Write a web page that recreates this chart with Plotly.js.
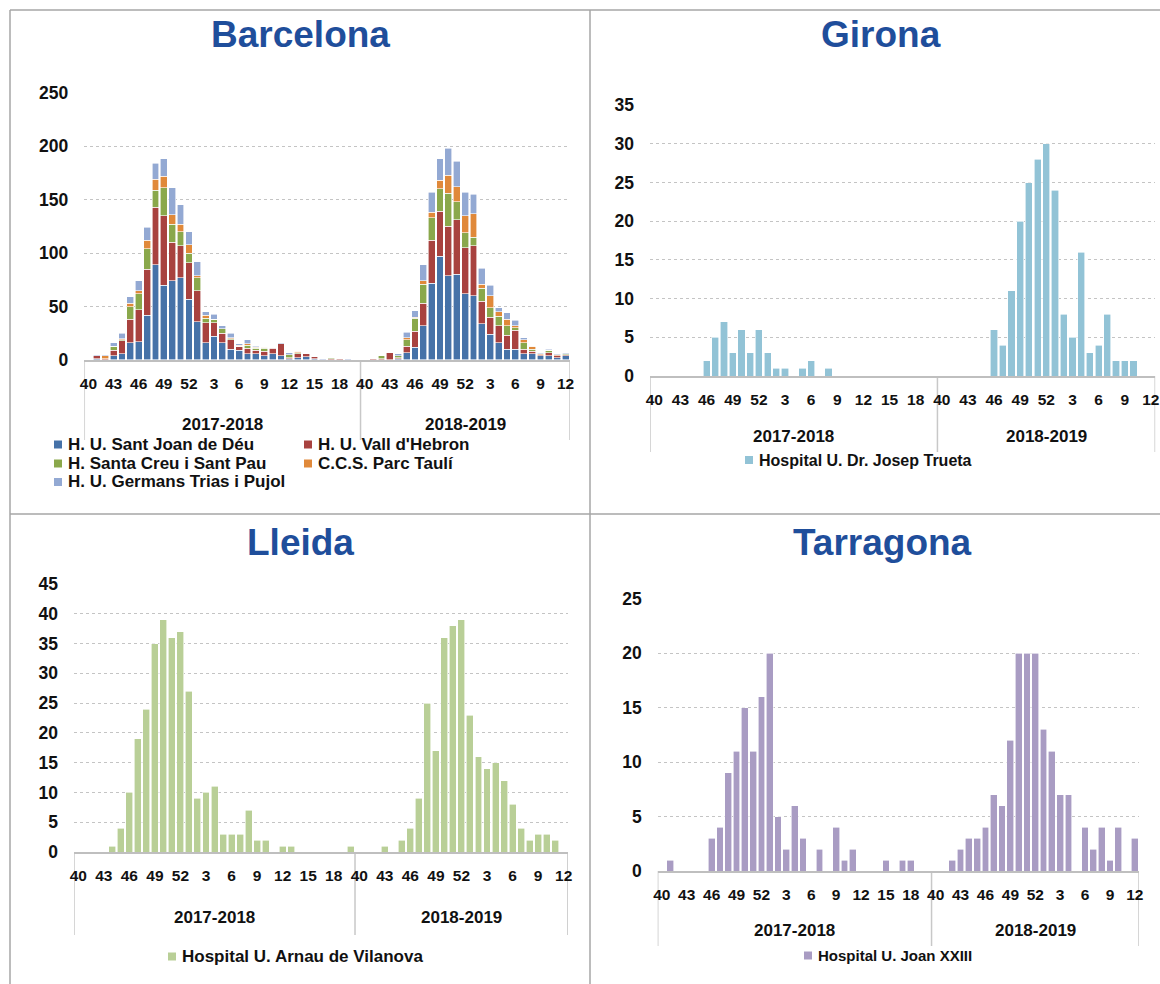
<!DOCTYPE html>
<html><head><meta charset="utf-8">
<script src="https://cdn.plot.ly/plotly-3.0.1.min.js"></script>
<style>html,body{margin:0;padding:0;background:#fff}#chart{width:1160px;height:984px}</style>
</head><body><div id="chart"></div>
<script>
// ---- categories ----
const seasons = ['2017-2018', '2018-2019'];
const weeks1718 = [40,41,42,43,44,45,46,47,48,49,50,51,52,1,2,3,4,5,6,7,8,9,10,11,12,13,14,15,16,17,18,19,20];
const weeks1819 = [40,41,42,43,44,45,46,47,48,49,50,51,52,1,2,3,4,5,6,7,8,9,10,11,12];

// ---- Barcelona (stacked) ----
const bcnSJD  = [0,1,0,4,6,16,17,42,89,70,74,77,57,36,16,22,16,10,9,6,6,4,6,4,1,2,3,1,0,0,0,0,0,
                 0,0,0,0,1,7,12,32,72,97,79,80,62,60,34,24,16,10,10,6,6,4,4,2,4];
const bcnVH   = [0,3,1,5,12,22,30,43,54,65,36,30,34,29,19,13,9,9,4,5,3,4,5,11,1,4,3,2,0,1,1,0,0,
                 0,1,1,7,1,6,15,21,40,42,46,51,43,47,21,16,16,13,18,4,2,1,3,2,1];
const bcnSCSP = [0,0,0,4,1,12,15,19,16,26,17,13,9,12,4,3,4,1,0,3,2,3,1,0,3,1,0,0,0,1,0,0,0,
                 0,0,3,0,2,6,12,18,21,21,31,17,14,8,12,9,9,9,2,6,2,0,2,0,1];
const bcnPT   = [0,0,3,0,1,3,3,8,10,11,9,7,8,2,3,0,0,1,1,1,1,1,0,0,0,1,0,0,0,0,0,0,0,
                 0,0,0,0,0,2,1,3,5,8,17,14,16,22,4,11,4,6,2,3,3,1,0,1,0];
const bcnGTP  = [0,1,1,3,5,6,9,12,15,16,25,18,12,13,3,5,3,4,1,4,1,0,0,1,2,0,0,0,1,0,0,1,0,
                 0,0,0,0,2,5,6,15,19,20,25,24,22,18,15,10,4,6,5,2,0,1,1,1,1];
const bcnNames = ['H. U. Sant Joan de Déu', "H. U. Vall d'Hebron", 'H. Santa Creu i Sant Pau', 'C.C.S. Parc Taulí', 'H. U. Germans Trias i Pujol'];
const bcnColors = ['#4672a8', '#a8423f', '#8aa84b', '#e0893a', '#93a9d3'];

// ---- Girona, Lleida, Tarragona ----
const gironaTrueta = [0,0,0,0,0,0,2,5,7,3,6,3,6,3,1,1,0,1,2,0,1,0,0,0,0,0,0,0,0,0,0,0,0,
                      0,0,0,0,0,0,6,4,11,20,25,28,30,24,8,5,16,3,4,8,2,2,2,0,0];
const lleidaArnau  = [0,0,0,0,1,4,10,19,24,35,39,36,37,27,9,10,11,3,3,3,7,2,2,0,1,1,0,0,0,0,0,0,1,
                      0,0,0,1,0,2,4,9,25,17,36,38,39,23,16,14,15,12,8,4,2,3,3,2,0];
const tarragonaJoan = [0,1,0,0,0,0,3,4,9,11,15,11,16,20,5,2,6,3,0,2,0,4,1,2,0,0,0,1,0,1,1,0,0,
                       0,0,1,2,3,3,4,7,6,12,20,20,20,13,11,7,7,0,4,2,4,1,4,0,3];

const W = 1160, H = 984;
const fx = v => v / W, fy = v => 1 - v / H;
const FONT = 'Liberation Sans, Arial, sans-serif';
const TITLE_COLOR = '#1f4e9b';
const TXT = '#111111';

const weeks = weeks1718.concat(weeks1819);
const xIdx = weeks.map((w, i) => i);
const tickIdx = xIdx.filter(i => i % 3 === 0);
const tickTxt = tickIdx.map(i => String(weeks[i]));
const n1 = weeks1718.length, nAll = weeks.length;

// panel geometry (pixels)
const panels = [
  {key:'', title:'Barcelona', tx:300, ty:35, x0:84.3, x1:569.8, yb:360, yt:92.7, ymax:250, dt:50, seasonY:424, divEnd:440},
  {key:'2', title:'Girona', tx:881, ty:35, x0:650, x1:1155.2, yb:376, yt:105.3, ymax:35, dt:5, seasonY:436, divEnd:452},
  {key:'3', title:'Lleida', tx:300, ty:542, x0:74, x1:567.9, yb:852, yt:584, ymax:45, dt:5, seasonY:917, divEnd:935},
  {key:'4', title:'Tarragona', tx:882, ty:542, x0:657.7, x1:1139, yb:871, yt:598.7, ymax:25, dt:5, seasonY:930, divEnd:946}
];

const traces = [];
const barLine = {color:'rgba(255,255,255,0.75)', width:0.8};
[bcnSJD, bcnVH, bcnSCSP, bcnPT, bcnGTP].forEach((arr, k) => {
  traces.push({type:'bar', x:xIdx, y:arr, name:bcnNames[k], xaxis:'x', yaxis:'y',
    marker:{color:bcnColors[k], line:barLine}, hoverinfo:'skip', showlegend:false});
});
const singles = [
  {arr:gironaTrueta, name:'Hospital U. Dr. Josep Trueta', color:'#92c3d6', key:'2'},
  {arr:lleidaArnau, name:'Hospital U. Arnau de Vilanova', color:'#b9cf97', key:'3'},
  {arr:tarragonaJoan, name:'Hospital U. Joan XXIII', color:'#a99cc3', key:'4'}
];
singles.forEach(s => traces.push({type:'bar', x:xIdx, y:s.arr, name:s.name, xaxis:'x'+s.key, yaxis:'y'+s.key,
  marker:{color:s.color, line:barLine}, hoverinfo:'skip', showlegend:false}));

const layout = {
  width:W, height:H, margin:{l:0, r:0, t:0, b:0}, paper_bgcolor:'#fff', plot_bgcolor:'rgba(0,0,0,0)',
  barmode:'stack', bargap:0.18, showlegend:false,
  font:{family:FONT, color:TXT},
  annotations:[], shapes:[]
};

panels.forEach(p => {
  layout['xaxis'+p.key] = {
    domain:[fx(p.x0), fx(p.x1)], anchor:'y'+p.key, range:[-0.5, nAll - 0.5],
    tickmode:'array', tickvals:tickIdx, ticktext:tickTxt, ticks:'', ticklabelstandoff:9,
    tickfont:{size:15.5, weight:'bold', color:TXT, family:FONT},
    showgrid:false, zeroline:false, showline:true, linecolor:'#bfbfbf', linewidth:1.5, fixedrange:true
  };
  layout['yaxis'+p.key] = {
    domain:[fy(p.yb), fy(p.yt)], anchor:'x'+p.key, range:[0, p.ymax], dtick:p.dt, tick0:0,
    ticks:'', ticklabelstandoff:15, tickfont:{size:17.5, weight:'bold', color:TXT, family:FONT},
    showgrid:true, gridcolor:'#c4c4c4', griddash:'dot', gridwidth:1, zeroline:false, showline:false, fixedrange:true
  };
  layout.annotations.push({text:p.title, xref:'paper', yref:'paper', x:fx(p.tx), y:fy(p.ty),
    xanchor:'center', yanchor:'middle', showarrow:false,
    font:{size:37, weight:'bold', color:TITLE_COLOR, family:FONT}});
  // season labels centred within their groups
  const centres = [(-0.5 + n1 - 0.5) / 2, (n1 - 0.5 + nAll - 0.5) / 2];
  seasons.forEach((s, k) => layout.annotations.push({text:s, xref:'x'+p.key, yref:'paper', x:centres[k], y:fy(p.seasonY),
    xanchor:'center', yanchor:'middle', showarrow:false, font:{size:17, weight:'bold', color:TXT, family:FONT}}));
  // group dividers
  [-0.5, n1 - 0.5, nAll - 0.5].forEach(xv => layout.shapes.push({type:'line', xref:'x'+p.key, yref:'paper',
    x0:xv, x1:xv, y0:fy(p.yb), y1:fy(p.divEnd), line:{color:'#c8c8c8', width:1.5}, layer:'below'}));
});

// ---- legends (manual) ----
function legendItem(xSq, yc, color, text, size) {
  layout.shapes.push({type:'rect', xref:'paper', yref:'paper', x0:fx(xSq), x1:fx(xSq + 8), y0:fy(yc + 4), y1:fy(yc - 4),
    fillcolor:color, line:{width:0}});
  layout.annotations.push({text:text, xref:'paper', yref:'paper', x:fx(xSq + 12), y:fy(yc), xanchor:'left', yanchor:'middle',
    showarrow:false, font:{size:size, weight:'bold', color:TXT, family:FONT}});
}
const bcnLegPos = [[54,444.5],[304,444.5],[54,463.5],[304,463.5],[54,482]];
bcnNames.forEach((nm, k) => legendItem(bcnLegPos[k][0], bcnLegPos[k][1], bcnColors[k], nm, 17));
legendItem(745, 460, singles[0].color, singles[0].name, 16);
legendItem(168, 956.5, singles[1].color, singles[1].name, 17);
legendItem(804, 955.5, singles[2].color, singles[2].name, 15);

// ---- panel frame ----
const frame = '#a6a6a6';
[[10,10,1160,10],[10,10,10,984],[590,10,590,984],[10,514,1160,514]].forEach(l =>
  layout.shapes.push({type:'line', xref:'paper', yref:'paper', x0:fx(l[0]), y0:fy(l[1]), x1:fx(l[2]), y1:fy(l[3]),
    line:{color:frame, width:1.5}}));

Plotly.newPlot('chart', traces, layout, {displayModeBar:false, staticPlot:true});
</script>
</body></html>
